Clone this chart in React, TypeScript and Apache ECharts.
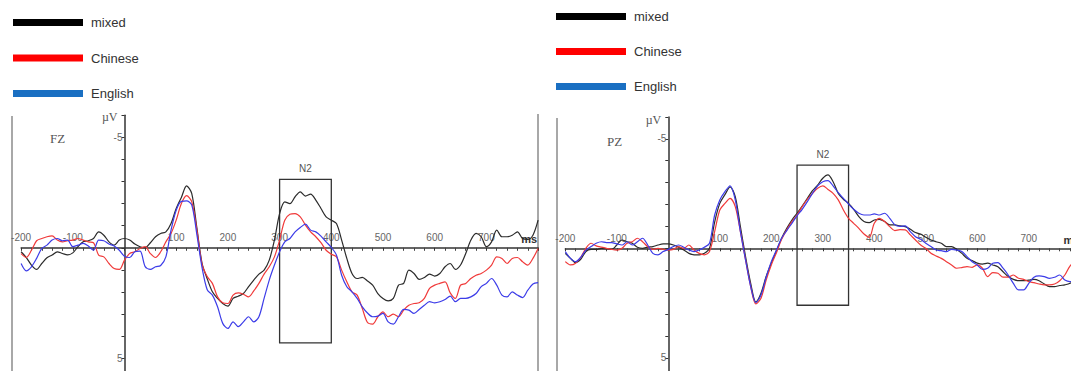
import React, { useEffect, useRef } from 'react';
import * as echarts from 'echarts';

// sampling grid (ms), -200 .. 800 every 10 ms
const times: number[] = Array.from({ length: 101 }, (_, i) => -200 + i * 10);

const seriesNames = ['mixed', 'Chinese', 'English'];
const lineColors = ['#2b2b2b', '#f03a3a', '#3c3ce8'];
const legendColors = ['#000000', '#ff0000', '#1a6fc2'];
const panelLabels = ['FZ', 'PZ'];

// FZ (left panel), µV
const fzMixed = [
  0.18, 0.44, 0.78, 0.98, 0.71, 0.45, 0.33, 0.18, 0.26, 0.32,
  0.23, -0.05, -0.27, -0.32, -0.42, -0.72, -0.57, -0.27, -0.12, -0.35,
  -0.42, -0.35, -0.17, -0.05, 0.0, -0.23, -0.5, -0.65, -0.72, -1.1,
  -1.78, -2.28, -2.8, -2.46, -0.9, 0.7, 1.4, 1.99, 2.29, 2.52,
  2.64, 2.29, 2.19, 2.07, 1.76, 1.46, 1.19, 1.01, 0.56, -0.35,
  -1.55, -2.08, -2.0, -2.31, -2.53, -2.34, -2.43, -2.16, -1.78, -1.4,
  -1.25, -1.1, -0.35, 0.48, 1.16, 1.39, 1.34, 1.5, 1.69, 2.07,
  2.29, 2.4, 2.29, 1.69, 1.61, 1.01, 1.16, 1.43, 1.34, 1.19,
  1.28, 1.16, 0.86, 0.71, 0.98, 0.78, 0.26, -0.35, -0.65, -0.5,
  -0.05, -0.27, -0.8, -0.5, -0.5, -0.57, -0.72, -0.42, -0.38, -0.57,
  -1.25,
];
const fzChinese = [
  0.26, 0.44, 0.11, -0.32, -0.42, -0.5, -0.54, -0.35, -0.27, -0.32,
  -0.35, -0.42, -0.35, -0.27, -0.23, 0.33, 0.41, 0.71, 0.94, 0.98,
  0.56, 0.26, 0.18, 0.03, -0.05, 0.26, 0.44, 0.18, -0.27, -0.65,
  -1.25, -2.0, -2.36, -2.09, -0.8, 0.75, 1.3, 1.61, 2.22, 2.49,
  2.52, 2.14, 2.04, 2.1, 2.22, 1.95, 1.61, 1.19, 0.86, 0.41,
  -0.35, -1.25, -1.52, -1.55, -1.4, -1.03, -0.72, -0.5, -0.23, 0.11,
  0.29, 0.41, 1.01, 1.54, 1.99, 2.14, 2.75, 3.38, 3.45, 3.12,
  2.9, 3.12, 3.0, 3.12, 2.82, 2.6, 2.52, 2.49, 2.29, 1.84,
  1.69, 1.61, 1.54, 2.04, 2.29, 1.69, 1.61, 1.39, 1.24, 1.16,
  1.01, 0.78, 0.41, 0.48, 0.71, 0.48, 0.44, 0.63, 0.78, 0.48,
  0.03,
];
const fzEnglish = [
  0.71, 1.04, 0.86, 0.48, 0.03, -0.12, -0.35, -0.42, -0.32, -0.35,
  -0.05, -0.12, -0.2, -0.08, 0.11, -0.35, -0.32, -0.17, -0.08, 0.11,
  0.38, 0.44, 0.18, 0.15, 0.85, 0.98, 0.86, 0.8, 0.41, -0.8,
  -1.7, -2.1, -2.12, -1.94, -0.6, 0.9, 1.9, 2.14, 2.67, 3.42,
  3.65, 3.35, 3.57, 3.35, 3.12, 3.35, 3.12, 2.29, 1.46, 0.78,
  0.18, -0.27, -0.42, -0.72, -0.92, -1.07, -0.8, -0.72, -0.53, -0.27,
  -0.02, 0.33, 1.24, 1.76, 1.99, 2.29, 2.67, 2.95, 3.12, 3.09,
  2.97, 3.35, 3.45, 3.12, 2.79, 2.82, 2.97, 2.79, 2.6, 2.44,
  2.49, 2.44, 2.34, 2.19, 2.44, 2.29, 2.29, 2.22, 2.07, 1.76,
  1.61, 1.39, 1.69, 2.14, 2.22, 1.99, 2.14, 2.25, 1.92, 1.64,
  1.58,
];

// PZ (right panel), µV
const pzMixed = [
  0.23, 0.46, 0.65, 0.5, 0.15, 0.05, 0.05, 0.0, 0.02, 0.05,
  -0.15, -0.38, -0.3, -0.23, -0.05, 0.0, -0.05, -0.08, -0.15, -0.2,
  -0.2, -0.15, -0.05, 0.08, 0.23, 0.3, 0.3, 0.23, 0.0, -1.2,
  -2.05, -2.45, -2.8, -2.36, -0.99, 0.38, 1.6, 2.45, 2.05, 1.29,
  0.68, 0.11, -0.46, -0.91, -1.29, -1.6, -1.93, -2.28, -2.63, -2.89,
  -3.2, -3.35, -3.04, -2.51, -2.24, -2.05, -1.78, -1.45, -1.22, -1.17,
  -1.29, -1.32, -1.22, -1.07, -1.07, -1.02, -0.99, -0.87, -0.72, -0.65,
  -0.5, -0.38, -0.3, -0.23, -0.08, -0.08, 0.05, 0.23, 0.46, 0.56,
  0.68, 0.72, 0.68, 0.76, 0.84, 1.07, 1.29, 1.42, 1.48, 1.48,
  1.45, 1.42, 1.48, 1.63, 1.75, 1.75, 1.7, 1.67, 1.6, 1.4,
  1.2,
];
const pzChinese = [
  0.61, 0.76, 0.68, 0.41, 0.0, -0.23, -0.11, -0.05, 0.0, 0.05,
  0.08, 0.0, -0.23, -0.3, -0.46, -0.3, -0.08, 0.05, 0.0, 0.05,
  0.08, 0.05, -0.08, 0.0, -0.15, 0.08, 0.23, 0.3, 0.15, -0.76,
  -1.75, -2.05, -2.28, -1.9, -0.76, 0.53, 1.75, 2.54, 2.28, 1.45,
  0.76, 0.2, -0.41, -0.84, -1.22, -1.52, -1.9, -2.24, -2.51, -2.74,
  -2.85, -2.69, -2.51, -2.21, -1.75, -1.37, -1.14, -0.91, -0.65, -0.5,
  -1.14, -1.37, -1.22, -0.99, -0.81, -0.85, -0.84, -0.61, -0.38, -0.15,
  0.0, 0.23, 0.35, 0.46, 0.61, 0.76, 0.91, 0.88, 0.84, 0.87,
  0.76, 0.91, 1.29, 1.11, 1.14, 1.32, 1.32, 1.22, 1.37, 1.42,
  1.52, 1.57, 1.63, 1.67, 1.67, 1.63, 1.48, 1.22, 0.81, 0.6,
  0.5,
];
const pzEnglish = [
  0.15, 0.46, 0.61, 0.41, 0.08, -0.08, -0.23, -0.3, -0.26, -0.26,
  -0.2, -0.15, -0.3, -0.15, -0.3, -0.46, -0.15, 0.23, 0.3, 0.15,
  0.05, -0.08, -0.15, -0.05, 0.08, 0.15, 0.08, -0.05, -0.23, -1.52,
  -2.21, -2.59, -2.85, -2.21, -0.76, 0.53, 1.75, 2.48, 2.13, 1.32,
  0.61, 0.08, -0.46, -0.81, -1.14, -1.48, -1.78, -2.13, -2.51, -2.85,
  -3.04, -3.09, -2.85, -2.54, -2.28, -2.02, -1.78, -1.6, -1.52, -1.52,
  -1.57, -1.52, -1.6, -1.37, -1.07, -1.0, -1.02, -0.76, -0.53, -0.41,
  -0.23, -0.08, 0.08, 0.11, 0.15, 0.05, 0.08, 0.15, 0.38, 0.61,
  0.76, 0.96, 0.91, 0.68, 0.65, 0.91, 1.22, 1.6, 1.9, 1.9,
  1.6, 1.32, 1.26, 1.29, 1.37, 1.32, 1.22, 1.45, 1.52, 1.4,
  1.3,
];

const panelData = [
  [fzMixed, fzChinese, fzEnglish],
  [pzMixed, pzChinese, pzEnglish],
];

// N2 windows: [msStart, msEnd, µVTop, µVBottom]
const n2Windows = [
  [300, 400, -3.1, 4.3],
  [250, 350, -3.8, 2.6],
];

const xMin = -200;
const xMax = 800;
const xInterval = 100;
const yMin = -6;
const yMax = 6;
const yLabelled = [-5, 5];

const sans = '"Liberation Sans", Arial, sans-serif';
const serif = '"Liberation Serif", "Times New Roman", serif';

export default function App() {
  const ref = useRef<HTMLDivElement>(null);

  useEffect(() => {
    if (!ref.current) return;
    const chart = echarts.init(ref.current, undefined, { renderer: 'svg' });

    const grids = [
      { left: 21.1, top: 115.2, width: 517, height: 265.2 },
      { left: 565.3, top: 116.9, width: 515, height: 262.8 },
    ];

    // place the axes on the zero lines of the other axis (fraction of the grid)
    const xZeroFrac = (0 - xMin) / (xMax - xMin);
    const yZeroFrac = (yMax - 0) / (yMax - yMin);

    const xAxes = grids.map((g, p) => ({
      type: 'value',
      gridIndex: p,
      min: xMin,
      max: xMax,
      interval: xInterval,
      position: 'bottom',
      offset: -g.height * yZeroFrac,
      axisLine: { onZero: false, lineStyle: { color: '#333', width: 1.5 } },
      axisTick: { show: true, length: 3, lineStyle: { color: '#333' } },
      minorTick: { show: true, splitNumber: 5, length: 3, lineStyle: { color: '#444' } },
      splitLine: { show: false },
      minorSplitLine: { show: false },
      axisLabel: {
        inside: true,
        margin: 5,
        fontSize: 10,
        color: '#666',
        fontFamily: sans,
        showMinLabel: true,
        formatter: (v: number) => (v === 0 || v === xMax ? '' : String(v)),
      },
      name: 'ms',
      nameLocation: 'end',
      nameGap: -1,
      nameTextStyle: {
        align: 'right',
        verticalAlign: 'bottom',
        fontWeight: 'bold',
        fontSize: 11,
        color: '#333',
        fontFamily: sans,
        padding: [0, 0, 3, 0],
      },
    }));

    const yAxes = grids.map((g, p) => ({
      type: 'value',
      gridIndex: p,
      inverse: true,
      min: yMin,
      max: yMax,
      interval: 1,
      position: 'left',
      offset: -g.width * xZeroFrac,
      axisLine: { onZero: false, lineStyle: { color: '#333', width: 1.5 } },
      axisTick: { show: true, length: 3, lineStyle: { color: '#333' } },
      splitLine: { show: false },
      axisLabel: {
        margin: 2,
        fontSize: 10,
        color: '#666',
        fontFamily: sans,
        formatter: (v: number) => (yLabelled.includes(v) ? String(v) : ''),
      },
      name: 'µV',
      nameLocation: 'start',
      nameGap: p === 0 ? -2 : -3,
      nameTextStyle: {
        align: 'right',
        verticalAlign: 'middle',
        fontSize: 12,
        color: '#555',
        fontFamily: serif,
        padding: [0, 7, 0, 0],
      },
    }));

    const series: any[] = [];
    panelData.forEach((sets, p) => {
      sets.forEach((vals, k) => {
        const s: any = {
          type: 'line',
          name: seriesNames[k],
          xAxisIndex: p,
          yAxisIndex: p,
          data: times.map((t, i) => [t, vals[i]]),
          showSymbol: false,
          symbol: 'none',
          smooth: 0.3,
          lineStyle: { width: 1.2, color: lineColors[k] },
          itemStyle: { color: lineColors[k] },
        };
        if (k === 0) {
          const w = n2Windows[p];
          s.markArea = {
            silent: true,
            itemStyle: { color: 'rgba(0,0,0,0)', borderColor: '#333', borderWidth: 1.3 },
            label: {
              show: true,
              position: 'top',
              distance: 5,
              formatter: 'N2',
              fontSize: 10,
              color: '#555',
              fontFamily: sans,
            },
            data: [[{ xAxis: w[0], yAxis: w[2] }, { xAxis: w[1], yAxis: w[3] }]],
          };
        }
        series.push(s);
      });
    });

    const legendBase = {
      orient: 'vertical',
      icon: 'rect',
      padding: 0,
      itemWidth: 70,
      itemHeight: 7,
      itemStyle: { borderWidth: 0 },
      textStyle: { fontSize: 13, color: '#333', fontFamily: sans, padding: [0, 0, 0, 3] },
      data: seriesNames.map((n, i) => ({ name: n, itemStyle: { color: legendColors[i] } })),
    };

    const option: any = {
      animation: false,
      backgroundColor: '#ffffff',
      grid: grids,
      xAxis: xAxes,
      yAxis: yAxes,
      legend: [
        { ...legendBase, left: 13, top: 16, itemGap: 22.5 },
        { ...legendBase, left: 556, top: 10, itemGap: 22 },
      ],
      graphic: [
        { type: 'line', shape: { x1: 12, y1: 116, x2: 12, y2: 371 }, style: { stroke: '#a8a8a8', lineWidth: 2 } },
        { type: 'line', shape: { x1: 538, y1: 114, x2: 538, y2: 371 }, style: { stroke: '#a8a8a8', lineWidth: 2 } },
        { type: 'line', shape: { x1: 557, y1: 118, x2: 557, y2: 371 }, style: { stroke: '#a8a8a8', lineWidth: 2 } },
        {
          type: 'text', x: 50, y: 138,
          style: { text: panelLabels[0], font: `13px ${serif}`, fill: '#555', align: 'left', verticalAlign: 'middle' },
        },
        {
          type: 'text', x: 607, y: 141,
          style: { text: panelLabels[1], font: `13px ${serif}`, fill: '#555', align: 'left', verticalAlign: 'middle' },
        },
      ],
      series,
    };

    chart.setOption(option);
    return () => chart.dispose();
  }, []);

  return (
    <div style={{ position: 'fixed', left: 0, top: 0, width: 1071, height: 371, overflow: 'hidden', background: '#fff' }}>
      <div ref={ref} style={{ width: 1100, height: 400 }} />
    </div>
  );
}
